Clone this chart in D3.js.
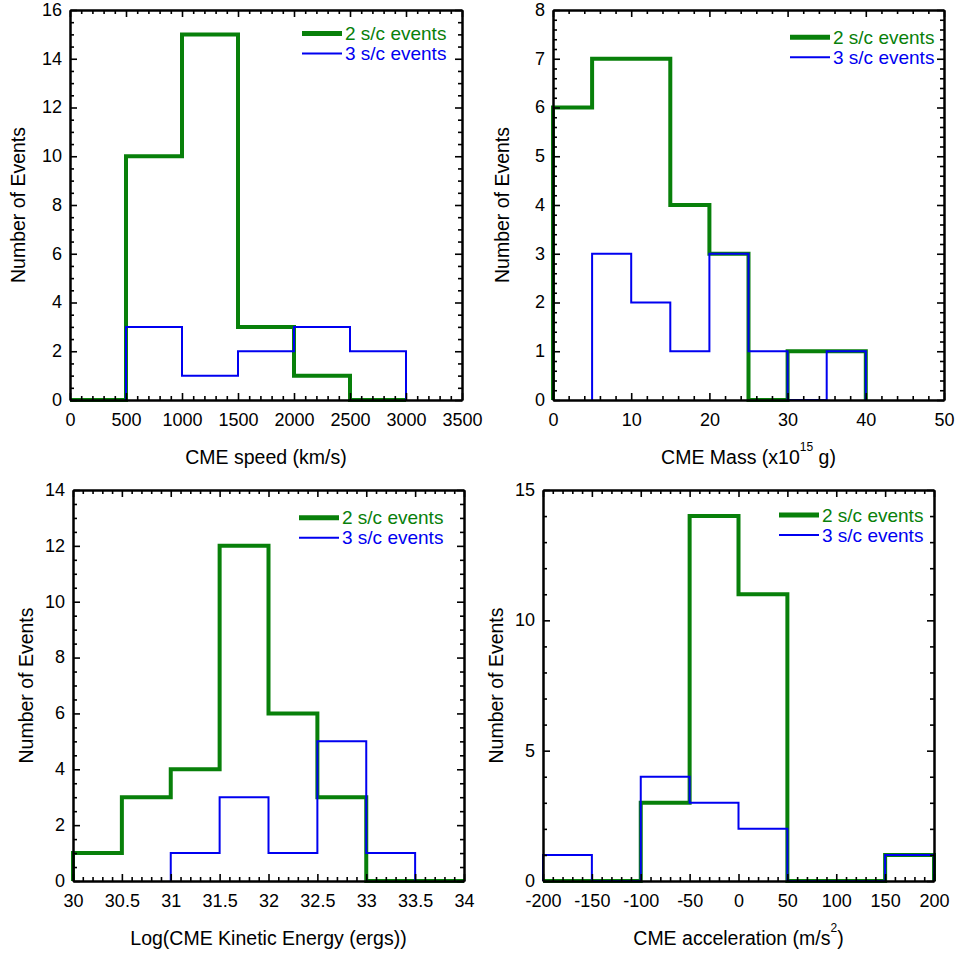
<!DOCTYPE html>
<html>
<head>
<meta charset="utf-8">
<script src="https://cdn.jsdelivr.net/npm/d3@7"></script>
<style>
  body { margin: 0; background: #fff; }
  svg { font-family: "Liberation Sans", Arial, sans-serif; }
</style>
</head>
<body>
<div class="chart"></div>
<script>
// bin edges and counts (null = no bar drawn for that series)
var speedEdges = [0, 500, 1000, 1500, 2000, 2500, 3000];
var speedTwo = [0, 10, 15, 3, 1, 0];
var speedThree = [null, 3, 1, 2, 3, 2];

var massEdges = [0, 5, 10, 15, 20, 25, 30, 35, 40];
var massTwo = [6, 7, 7, 4, 3, 0, 1, 1];
var massThree = [null, 3, 2, 1, 3, 1, 0, 1];

var energyEdges = [30, 30.5, 31, 31.5, 32, 32.5, 33, 33.5, 34];
var energyTwo = [1, 3, 4, 12, 6, 3, 0, 0];
var energyThree = [null, null, 1, 3, 1, 5, 1, null];

var accelEdges = [-200, -150, -100, -50, 0, 50, 100, 150, 200];
var accelTwo = [0, 0, 3, 14, 11, 0, 0, 1];
var accelThree = [1, 0, 4, 3, 2, 0, 0, 1];

var legendLabels = ["2 s/c events", "3 s/c events"];

var green = "#08800a";
var blue = "#0000f0";

var svg = d3.select(".chart").append("svg")
  .attr("width", 956)
  .attr("height", 956);

var panels = [
  {
    box: [70, 462, 10, 400],
    xDomain: [0, 3500], xMajor: 500, xMinor: 100,
    yDomain: [0, 16], yMajor: 2, yMinor: 0.5,
    edges: speedEdges, two: speedTwo, three: speedThree,
    xTitle: ["CME speed (km/s)"],
    yTitleOffset: 52, legend: [302, 33.5]
  },
  {
    box: [553, 944, 10, 400],
    xDomain: [0, 50], xMajor: 10, xMinor: 2,
    yDomain: [0, 8], yMajor: 1, yMinor: 0.2,
    edges: massEdges, two: massTwo, three: massThree,
    xTitle: ["CME Mass (x10", "15", " g)"],
    yTitleOffset: 51, legend: [790, 37.3]
  },
  {
    box: [73, 464, 490, 881],
    xDomain: [30, 34], xMajor: 0.5, xMinor: 0.1,
    yDomain: [0, 14], yMajor: 2, yMinor: 0.5,
    edges: energyEdges, two: energyTwo, three: energyThree,
    xTitle: ["Log(CME Kinetic Energy (ergs))"],
    yTitleOffset: 47, legend: [299, 517.7]
  },
  {
    box: [543, 934, 490, 881],
    xDomain: [-200, 200], xMajor: 50, xMinor: 10,
    yDomain: [0, 15], yMajor: 5, yMinor: 1,
    edges: accelEdges, two: accelTwo, three: accelThree,
    xTitle: ["CME acceleration (m/s", "2", ")"],
    yTitleOffset: 47, legend: [779, 515]
  }
];

// tick values without floating point drift
function ticksBy(domain, step) {
  var n = Math.round((domain[1] - domain[0]) / step);
  return d3.range(n + 1).map(i => +(domain[0] + i * step).toFixed(6));
}

// step outline of a histogram
function stepPoints(edges, counts) {
  var pts = [];
  var first = counts.findIndex(v => v !== null);
  var last = counts.length - 1;
  while (counts[last] === null) last--;
  pts.push([edges[first], 0]);
  for (var i = first; i <= last; i++) {
    var v = counts[i] === null ? 0 : counts[i];
    pts.push([edges[i], v]);
    pts.push([edges[i + 1], v]);
  }
  pts.push([edges[last + 1], 0]);
  return pts;
}

panels.forEach(function(p) {
  var left = p.box[0], right = p.box[1], top = p.box[2], bottom = p.box[3];

  var x = d3.scaleLinear().domain(p.xDomain).range([left, right]);
  var y = d3.scaleLinear().domain(p.yDomain).range([bottom, top]);

  var g = svg.append("g");

  var line = d3.line()
    .x(d => x(d[0]))
    .y(d => y(d[1]));

  // histograms: green under blue
  g.append("path")
    .attr("d", line(stepPoints(p.edges, p.two)))
    .attr("fill", "none")
    .attr("stroke", green)
    .attr("stroke-width", 4)
    .attr("stroke-linejoin", "miter");

  g.append("path")
    .attr("d", line(stepPoints(p.edges, p.three)))
    .attr("fill", "none")
    .attr("stroke", blue)
    .attr("stroke-width", 2)
    .attr("stroke-linejoin", "miter");

  var xMajor = ticksBy(p.xDomain, p.xMajor);
  var xMinor = ticksBy(p.xDomain, p.xMinor).filter(v => xMajor.indexOf(v) < 0);
  var yMajor = ticksBy(p.yDomain, p.yMajor);
  var yMinor = ticksBy(p.yDomain, p.yMinor).filter(v => yMajor.indexOf(v) < 0);

  function styleAxis(sel) {
    sel.selectAll("path").attr("stroke", "#000").attr("stroke-width", 2);
    sel.selectAll("line").attr("stroke", "#000").attr("stroke-width", 1.6);
    sel.selectAll("text")
      .attr("fill", "#000")
      .style("font-size", "18px")
      .style("font-family", "'Liberation Sans', Arial, sans-serif");
  }

  // minor ticks on all four sides
  g.append("g").attr("transform", `translate(0,${bottom})`)
    .call(d3.axisBottom(x).tickValues(xMinor).tickSize(-4).tickSizeOuter(0).tickFormat(""))
    .call(styleAxis);
  g.append("g").attr("transform", `translate(0,${top})`)
    .call(d3.axisTop(x).tickValues(xMinor).tickSize(-4).tickSizeOuter(0).tickFormat(""))
    .call(styleAxis);
  g.append("g").attr("transform", `translate(${left},0)`)
    .call(d3.axisLeft(y).tickValues(yMinor).tickSize(-4).tickSizeOuter(0).tickFormat(""))
    .call(styleAxis);
  g.append("g").attr("transform", `translate(${right},0)`)
    .call(d3.axisRight(y).tickValues(yMinor).tickSize(-4).tickSizeOuter(0).tickFormat(""))
    .call(styleAxis);

  // major ticks with labels on bottom and left
  g.append("g").attr("transform", `translate(0,${bottom})`)
    .call(d3.axisBottom(x).tickValues(xMajor).tickSize(-7).tickSizeOuter(0)
      .tickPadding(13).tickFormat(d => String(d)))
    .call(styleAxis);
  g.append("g").attr("transform", `translate(0,${top})`)
    .call(d3.axisTop(x).tickValues(xMajor).tickSize(-7).tickSizeOuter(0).tickFormat(""))
    .call(styleAxis);
  var yAx = g.append("g").attr("transform", `translate(${left},0)`)
    .call(d3.axisLeft(y).tickValues(yMajor).tickSize(-7).tickSizeOuter(0)
      .tickPadding(8).tickFormat(d => String(d)))
    .call(styleAxis);
  yAx.selectAll("text").attr("dy", "0.3em");
  g.append("g").attr("transform", `translate(${right},0)`)
    .call(d3.axisRight(y).tickValues(yMajor).tickSize(-7).tickSizeOuter(0).tickFormat(""))
    .call(styleAxis);

  // x axis title (with optional superscript)
  var xt = g.append("text")
    .attr("x", (left + right) / 2)
    .attr("y", bottom + 64)
    .attr("text-anchor", "middle")
    .style("font-size", "19.5px")
    .attr("fill", "#000");
  xt.append("tspan").text(p.xTitle[0]);
  if (p.xTitle.length > 1) {
    xt.append("tspan").attr("dy", -13).style("font-size", "12px").text(p.xTitle[1]);
    xt.append("tspan").attr("dy", 13).text(p.xTitle[2]);
  }

  // y axis title
  g.append("text")
    .attr("transform", `translate(${left - p.yTitleOffset},${(top + bottom) / 2}) rotate(-90)`)
    .attr("text-anchor", "middle")
    .attr("dy", "0.35em")
    .style("font-size", "19.5px")
    .attr("fill", "#000")
    .text("Number of Events");

  // legend
  var lx = p.legend[0], ly = p.legend[1];
  [[green, 5], [blue, 2]].forEach(function(s, i) {
    var yy = ly + i * 20;
    g.append("line")
      .attr("x1", lx).attr("x2", lx + 40)
      .attr("y1", yy).attr("y2", yy)
      .attr("stroke", s[0])
      .attr("stroke-width", s[1]);
    g.append("text")
      .attr("x", lx + 43)
      .attr("y", yy)
      .attr("dy", "0.35em")
      .style("font-size", "19px")
      .attr("fill", s[0])
      .text(legendLabels[i]);
  });
});
</script>
</body>
</html>
